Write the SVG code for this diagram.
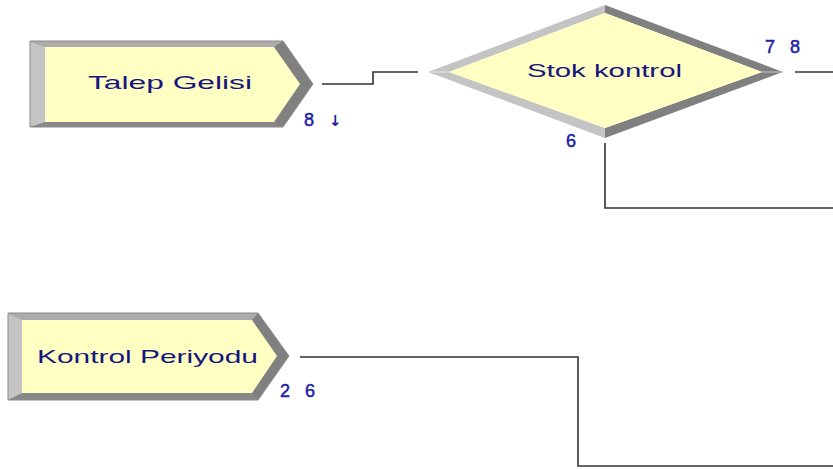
<svg xmlns="http://www.w3.org/2000/svg" width="833" height="469" viewBox="0 0 833 469">
  <style>
    .dark { fill: #808080; }
    .light { fill: #c4c4c4; }
    .mid { fill: #ababab; }
    .shade { fill: #888888; }
    .face { fill: #ffffc4; }
    .edge { fill: none; stroke: #8a8a8a; stroke-width: 1; }
    .name { font-family: "Liberation Sans", Arial, sans-serif; font-size: 19px; fill: #16167e; text-anchor: middle; }
    .num { font-family: "Liberation Sans", Arial, sans-serif; font-size: 18px; fill: #2222a0; stroke: #2222a0; stroke-width: 0.5; word-spacing: 10px; }
    .conn { fill: none; stroke: #333333; stroke-width: 1.6; }
  </style>

  <rect width="833" height="469" fill="#ffffff"/>

  <!-- Create module: Talep Gelisi -->
  <g id="talep-gelisi">
    <polygon class="dark" points="30,41 283,41 313,84 283,127 30,127"/>
    <polygon class="mid" points="30,41 283,41 274,47 45,47"/>
    <polygon class="shade" points="30,127 45,122 274,122 283,127"/>
    <polygon class="light" points="30,41 45,47 45,122 30,127"/>
    <polygon class="face" points="45,47 274,47 300,84 274,122 45,122"/>
    <polygon class="edge" points="30,41 283,41 313,84 283,127 30,127"/>
    <text class="name" x="170" y="89" textLength="164" lengthAdjust="spacingAndGlyphs">Talep Gelisi</text>
    <text class="num" x="304" y="126">8</text>
    <text x="329" y="126" font-family="DejaVu Sans, sans-serif" font-size="15" font-weight="bold" fill="#2222a0">↓</text>
  </g>

  <!-- Decide module: Stok kontrol -->
  <g id="stok-kontrol">
    <polygon class="light" points="428,72 605,5 605,13 449,72 605,128 605,138"/>
    <polygon class="dark" points="605,5 783,72 605,138 605,128 762,72 605,13"/>
    <polygon class="face" points="449,72 605,13 762,72 605,128"/>
    <line x1="428" y1="72" x2="449" y2="72" stroke="#e0e0e0" stroke-width="1"/>
    <line x1="762" y1="72" x2="783" y2="72" stroke="#c8c8c8" stroke-width="1"/>
    <text class="name" x="604.5" y="77" font-size="18" textLength="155" lengthAdjust="spacingAndGlyphs">Stok kontrol</text>
    <text class="num" x="765" y="53">7 8</text>
    <text class="num" x="566" y="147">6</text>
  </g>

  <!-- Create module: Kontrol Periyodu -->
  <g id="kontrol-periyodu">
    <polygon class="dark" points="8,313 258,313 289,356 258,400 8,400"/>
    <polygon class="mid" points="8,313 258,313 252,320 22,320"/>
    <polygon class="shade" points="8,400 22,393 252,393 258,400"/>
    <polygon class="light" points="8,313 22,320 22,393 8,400"/>
    <polygon class="face" points="22,320 252,320 277,356 252,393 22,393"/>
    <polygon class="edge" points="8,313 258,313 289,356 258,400 8,400"/>
    <text class="name" x="147.5" y="363" textLength="221" lengthAdjust="spacingAndGlyphs">Kontrol Periyodu</text>
    <text class="num" x="280" y="397">2 6</text>
  </g>

  <!-- Connectors -->
  <g id="connectors">
    <polyline class="conn" points="322,84 373,84 373,72 418,72"/>
    <polyline class="conn" points="795,72 833,72"/>
    <polyline class="conn" points="605,143 605,208 833,208"/>
    <polyline class="conn" points="300,357 578,357 578,466 833,466"/>
  </g>
</svg>
